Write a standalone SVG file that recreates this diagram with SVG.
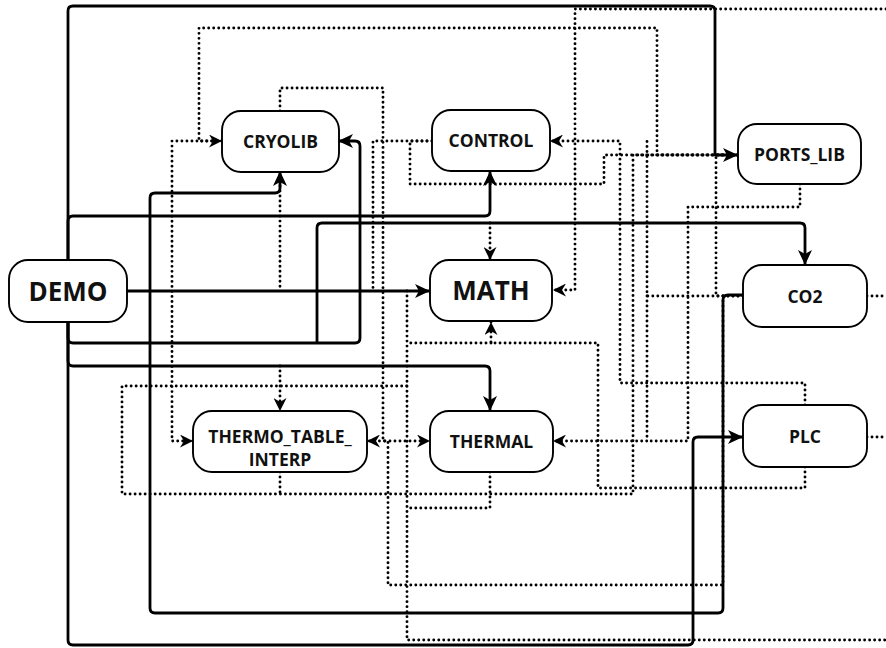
<svg xmlns="http://www.w3.org/2000/svg" width="886" height="648" viewBox="0 0 886 648">
<style>
.node rect{fill:#fff;stroke:#000;stroke-width:1.9}
.node text{font-family:"Open Sans","Noto Sans","DejaVu Sans",sans-serif;font-weight:700;font-size:17.5px;text-anchor:middle;fill:#111}
.node text.big{font-size:26px}
.s{fill:none;stroke:#000;stroke-width:2.8;stroke-linejoin:round}
.d{fill:none;stroke:#000;stroke-width:2.9;stroke-linecap:round;stroke-dasharray:0.01 5}
</style>
<defs>
<marker id="as" viewBox="0 0 15 14" refX="15" refY="7" markerWidth="15" markerHeight="14" markerUnits="userSpaceOnUse" orient="auto"><path d="M0,0 L15,7 L0,14 L4,7 Z" fill="#000"/></marker>
<marker id="ad" viewBox="0 0 13 13" refX="13" refY="6.5" markerWidth="13" markerHeight="13" markerUnits="userSpaceOnUse" orient="auto"><path d="M0,0 L13,6.5 L0,13 L4,6.5 Z" fill="#000"/></marker>
</defs>
<rect width="886" height="648" fill="#fff"/>
<g id="connectors">
<path class="d" d="M738,155 H657 V28 H199 V141 H222" marker-end="url(#ad)"/>
<path class="d" d="M222,141 H172 V441 H193" marker-end="url(#ad)"/>
<path class="d" d="M280,111 V88 H383 V441 H430" marker-end="url(#ad)"/>
<path class="d" d="M432,141 H373 V291"/>
<path class="d" d="M432,141 H410 V184 H604 V155 H738"/>
<path class="d" d="M886,9 H575 V290 H553" marker-end="url(#ad)"/>
<path class="d" d="M805,405 V383 H620 V141 H550" marker-end="url(#ad)"/>
<path class="d" d="M743,296 H647 V141"/>
<path class="d" d="M647,296 V441 H553" marker-end="url(#ad)"/>
<path class="d" d="M800,184 V207 H688 V441 H647"/>
<path class="d" d="M738,155 H633 V494 H122 V386 H407"/>
<path class="d" d="M280,472 V494"/>
<path class="d" d="M805,467 V488 H598 V343 H491 V322" marker-end="url(#ad)"/>
<path class="d" d="M491,343 H407"/>
<path class="d" d="M407,291 V640 H886"/>
<path class="d" d="M490,472 V508 H407"/>
<path class="d" d="M723,296 V585 H388 V441 H367" marker-end="url(#ad)"/>
<path class="d" d="M743,296 H716 V155"/>
<path class="d" d="M280,171 V291"/>
<path class="d" d="M280,366 V411" marker-end="url(#ad)"/>
<path class="d" d="M490,223 V260" marker-end="url(#ad)"/>
<path class="d" d="M867,296 H886"/>
<path class="d" d="M867,437 H886"/>
<path class="s" d="M68,260 V11 Q68,6 73,6 H710 Q715,6 715,11 V155 H738" marker-end="url(#as)"/>
<path class="s" d="M68,260 V221 Q68,216 73,216 H485 Q490,216 490,211 V171" marker-end="url(#as)"/>
<path class="s" d="M127,291 H430" marker-end="url(#as)"/>
<path class="s" d="M68,322 V338 Q68,343 73,343 H355 Q360,343 360,338 V146 Q360,141 355,141 H338" marker-end="url(#as)"/>
<path class="s" d="M317,343 V228 Q317,223 322,223 H800 Q805,223 805,228 V265" marker-end="url(#as)"/>
<path class="s" d="M68,322 V361 Q68,366 73,366 H485 Q490,366 490,371 V411" marker-end="url(#as)"/>
<path class="s" d="M68,322 V640 Q68,645 73,645 H688 Q693,645 693,640 V442 Q693,437 698,437 H743" marker-end="url(#as)"/>
<path class="s" d="M743,295 H728 Q723,295 723,300 V608 Q723,613 718,613 H155 Q150,613 150,608 V198 Q150,193 155,193 H275 Q280,193 280,188 V171" marker-end="url(#as)"/>
</g>
<g id="node-cryolib" class="node"><rect x="222" y="111" width="117" height="61" rx="19"/><text x="280.5" y="147.5">CRYOLIB</text></g>
<g id="node-control" class="node"><rect x="432" y="110" width="118" height="61" rx="19"/><text x="491" y="147">CONTROL</text></g>
<g id="node-ports_lib" class="node"><rect x="738" y="124" width="123" height="60" rx="19"/><text x="799.5" y="160.5">PORTS_LIB</text></g>
<g id="node-demo" class="node"><rect x="9" y="260" width="118" height="62" rx="19"/><text class="big" x="68" y="300.5">DEMO</text></g>
<g id="node-math" class="node"><rect x="430" y="260" width="122" height="61" rx="19"/><text class="big" x="491" y="300">MATH</text></g>
<g id="node-co2" class="node"><rect x="743" y="265" width="124" height="62" rx="19"/><text x="805" y="302.5">CO2</text></g>
<g id="node-thermo_table_interp" class="node"><rect x="193" y="411" width="174" height="61" rx="19"/><text x="280" y="442.5">THERMO_TABLE_</text><text x="280" y="465.5">INTERP</text></g>
<g id="node-thermal" class="node"><rect x="430" y="411" width="123" height="61" rx="19"/><text x="491.5" y="447.5">THERMAL</text></g>
<g id="node-plc" class="node"><rect x="743" y="405" width="124" height="62" rx="19"/><text x="805" y="442.5">PLC</text></g>
</svg>
